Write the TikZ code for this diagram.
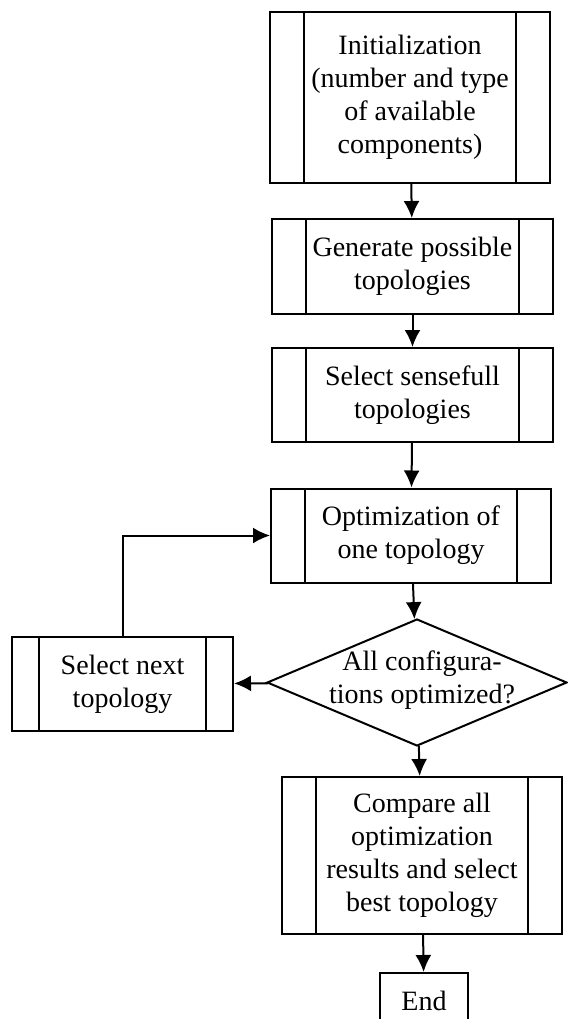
\documentclass[tikz,border=0pt]{standalone}
\usepackage{fontspec}
\setmainfont{Liberation Serif}
\usetikzlibrary{shapes.geometric,arrows.meta}
\begin{document}
\begin{tikzpicture}[x=0.5pt,y=-0.5pt,line width=1pt]
	\useasboundingbox (0,0) rectangle (568,1019);
	\tikzstyle{txt}=[align=center,inner sep=0pt,font=\fontsize{14}{16.5}\selectfont]
	\tikzstyle{flow}=[draw,-{Latex[length=8.5pt,width=8pt]}]
	\tikzstyle{decision}=[diamond,draw,inner sep=0pt]
	\tikzstyle{endbox}=[rectangle,draw,txt]
	\tikzset{proc/.style={rectangle,draw,txt,path picture={
		\draw ([xshift=#1]path picture bounding box.north west) -- ([xshift=#1]path picture bounding box.south west);
		\draw ([xshift=-#1]path picture bounding box.north east) -- ([xshift=-#1]path picture bounding box.south east);}},
		proc/.default=17pt}
	% main column
	\node[proc,minimum width=140pt,minimum height=85.5pt]	(init)	at (410,97.5)	{Initialization\\(number and type\\of available\\components)};
	\node[proc,minimum width=140.5pt,minimum height=47.5pt]	(gen)	at (412.5,266.5)	{Generate possible\\topologies};
	\node[proc,minimum width=140.5pt,minimum height=47pt]	(sel)	at (412.5,395)	{Select sensefull\\topologies};
	\node[proc,minimum width=140pt,minimum height=47pt]	(opt)	at (411,535.5)	{Optimization of\\one topology};
	\node[decision,minimum width=150pt,minimum height=63.5pt]	(dec)	at (417,682.5)	{};
	\node[txt]	(dec-text)	at (422,680)	{All configura-\\tions optimized?};
	\node[proc,minimum width=140pt,minimum height=78.5pt]	(cmp)	at (422,855.5)	{Compare all\\optimization\\results and select\\best topology};
	\node[endbox,minimum width=44pt,minimum height=28pt]	(end)	at (424,1001)	{End};
	% loop back
	\node[proc=13.5pt,minimum width=110.5pt,minimum height=47pt]	(next)	at (122.5,684)	{Select next\\topology};
	
	\path[flow]
		(init)	edge	(gen)
		(gen)	edge	(sel)
		(sel)	edge	(opt)
		(opt)	edge	(dec)
		(dec)	edge	(next)
		(dec)	edge	(cmp)
		(cmp)	edge	(end);
	\draw[flow] (next.north) |- (opt.west);
\end{tikzpicture}
\end{document}
